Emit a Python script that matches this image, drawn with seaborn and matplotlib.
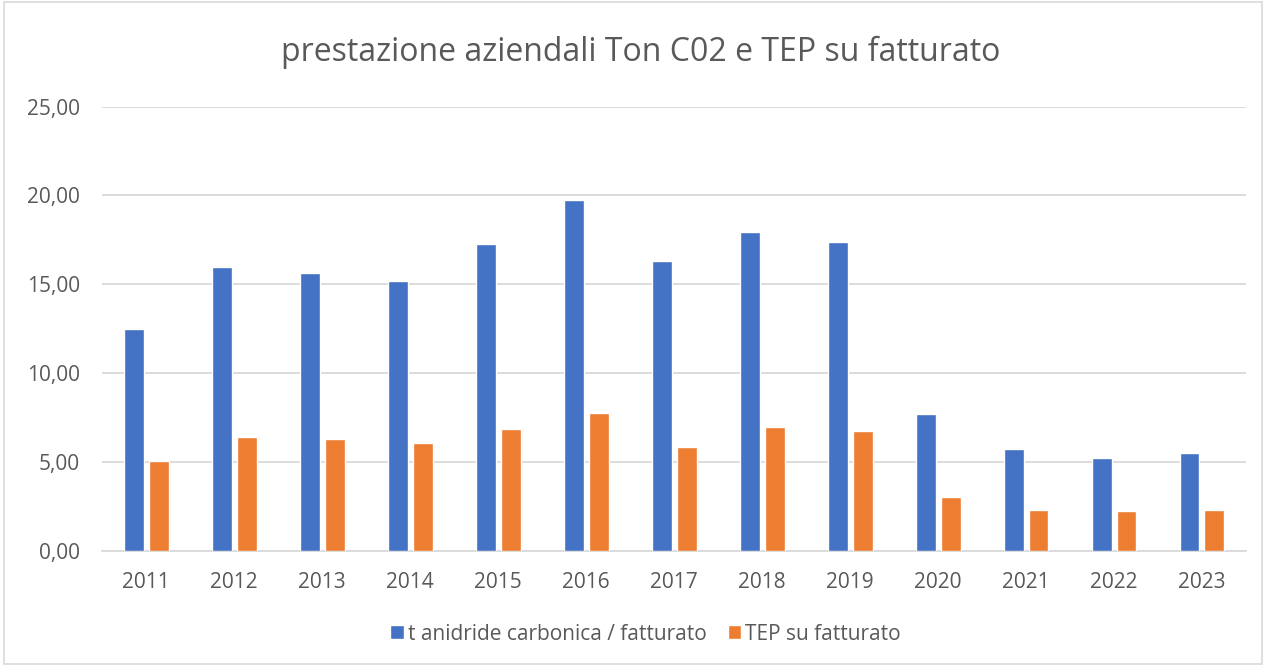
import matplotlib.pyplot as plt
import seaborn as sns
import pandas as pd
from matplotlib.ticker import FuncFormatter

plt.switch_backend('Agg')
sns.set_theme(style="white")
plt.rcParams['font.family'] = ['Open Sans', 'DejaVu Sans']

# Dati
anni = ['2011', '2012', '2013', '2014', '2015', '2016', '2017',
        '2018', '2019', '2020', '2021', '2022', '2023']
co2_fatturato = [12.48, 15.96, 15.62, 15.19, 17.25, 19.75, 16.31,
                 17.94, 17.40, 7.70, 5.73, 5.22, 5.50]
tep_fatturato = [5.05, 6.38, 6.27, 6.06, 6.83, 7.75, 5.82,
                 6.98, 6.74, 3.01, 2.29, 2.22, 2.29]
serie = ['t anidride carbonica / fatturato', 'TEP su fatturato']
colori = ['#4472C4', '#ED7D31']

df = pd.DataFrame({
    'anno': anni * 2,
    'valore': co2_fatturato + tep_fatturato,
    'serie': [serie[0]] * len(anni) + [serie[1]] * len(anni),
})

testo = '#595959'
griglia = '#D9D9D9'

fig = plt.figure(figsize=(12.66, 6.66), dpi=100)
ax = fig.add_axes([0.0806, 0.173, 0.9036, 0.667])

sns.barplot(data=df, x='anno', y='valore', hue='serie', palette=colori,
            width=0.568, gap=0.2, saturation=1, ax=ax, zorder=3)

ax.set_ylim(0, 25)
ax.set_yticks([0, 5, 10, 15, 20, 25])
ax.yaxis.set_major_formatter(FuncFormatter(lambda v, p: f'{v:.2f}'.replace('.', ',')))
ax.grid(axis='y', color=griglia, linewidth=1.3, zorder=0)
ax.set_xlim(-0.5, len(anni) - 0.5)
for s in ['top', 'right', 'left']:
    ax.spines[s].set_visible(False)
ax.spines['bottom'].set_color(griglia)
ax.spines['bottom'].set_linewidth(1.3)
ax.tick_params(axis='both', length=0, labelsize=15, colors=testo)
ax.tick_params(axis='x', pad=15)
ax.tick_params(axis='y', pad=16)
ax.set_xlabel('')
ax.set_ylabel('')

fig.text(0.506, 0.922, 'prestazione aziendali Ton C02 e TEP su fatturato',
         ha='center', va='center', fontsize=23, color=testo)

leg = ax.legend(loc='center', bbox_to_anchor=(0.51, 0.048), bbox_transform=fig.transFigure,
                ncol=2, frameon=False, fontsize=15, handlelength=0.65, handleheight=0.65,
                handletextpad=0.2, columnspacing=1.0)
for t in leg.get_texts():
    t.set_color(testo)

# bordo grigio del grafico
fig.patches.append(plt.Rectangle((0.003, 0.003), 0.994, 0.994, transform=fig.transFigure,
                                 fill=False, edgecolor=griglia, linewidth=1.2))

fig.savefig('out.png', dpi=100)
plt.close()
